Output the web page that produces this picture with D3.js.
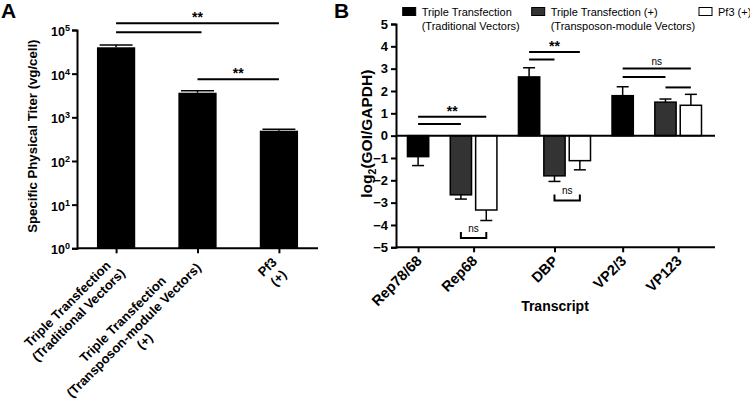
<!DOCTYPE html>
<html>
<head>
<meta charset="utf-8">
<script src="https://cdn.jsdelivr.net/npm/d3@7"></script>
<style>
  body { margin: 0; background: #fff; }
  svg { font-family: Arial, "Liberation Sans", sans-serif; }
  .bold { font-weight: bold; }
</style>
</head>
<body>
<div id="wrapper"></div>
<script>
// ---- Panel A data: specific physical titer ----
const titerLabels = [
  ["Triple Transfection", "(Traditional Vectors)"],
  ["Triple Transfection", "(Transposon-module Vectors)", "(+)"],
  ["Pf3", "(+)"],
];
const titerMeans = [40200, 3660, 494];
const titerErrors = [5200, 410, 37];
const titerTicks = [1, 10, 100, 1000, 10000, 100000];

// ---- Panel B data: log2(GOI/GAPDH) ----
const transcripts = ["Rep78/68", "Rep68", "DBP", "VP2/3", "VP123"];
const seriesNames = [
  ["Triple Transfection", "(Traditional Vectors)"],
  ["Triple Transfection (+)", "(Transposon-module Vectors)"],
  ["Pf3 (+)"],
];
const traditionalMeans = [-0.94, null, 2.63, 1.79, null];
const traditionalErrors = [0.40, null, 0.41, 0.40, null];
const transposonMeans = [null, -2.65, -1.80, null, 1.50];
const transposonErrors = [null, 0.19, 0.25, null, 0.14];
const pf3Means = [null, -3.33, -1.12, null, 1.36];
const pf3Errors = [null, 0.47, 0.41, null, 0.49];
const log2Ticks = [-5, -4, -3, -2, -1, 0, 1, 2, 3, 4, 5];

const seriesFill = ["#000", "#333", "#fff"];

const svg = d3.select("#wrapper").append("svg")
    .attr("width", 750)
    .attr("height", 399);

// ================= Panel A =================
const a = { left: 77, right: 318, top: 30, bottom: 248.3 };

const xA = d3.scalePoint()
    .domain(d3.range(titerMeans.length))
    .range([a.left, a.right])
    .padding(0.48);
const yA = d3.scaleLog()
    .domain([1, 1e5])
    .range([a.bottom, a.top]);
const barWA = xA.step() * 0.47;

const gA = svg.append("g");

gA.selectAll("rect.bar")
  .data(titerMeans)
  .join("rect")
    .attr("class", "bar")
    .attr("x", (d, i) => xA(i) - barWA / 2)
    .attr("y", d => yA(d))
    .attr("width", barWA)
    .attr("height", d => yA(1) - yA(d))
    .attr("fill", "#000");

// error bars (upper only)
titerMeans.forEach((m, i) => {
  const cx = xA(i);
  gA.append("line").attr("x1", cx).attr("x2", cx)
    .attr("y1", yA(m)).attr("y2", yA(m + titerErrors[i]))
    .attr("stroke", "#000").attr("stroke-width", 1.5);
  gA.append("line").attr("x1", cx - barWA * 0.43).attr("x2", cx + barWA * 0.43)
    .attr("y1", yA(m + titerErrors[i])).attr("y2", yA(m + titerErrors[i]))
    .attr("stroke", "#000").attr("stroke-width", 1.5);
});

// y axis
const yAxisA = gA.append("g")
    .attr("transform", `translate(${a.left},0)`)
    .call(d3.axisLeft(yA).tickValues(titerTicks).tickSize(5).tickFormat(""));
yAxisA.select(".domain").attr("stroke-width", 2);
yAxisA.selectAll(".tick line").attr("stroke-width", 2);
yAxisA.selectAll(".tick").append("text")
    .attr("class", "bold")
    .attr("x", -7)
    .attr("dy", "0.45em")
    .attr("text-anchor", "end")
    .attr("fill", "#000")
    .style("font-size", "12.5px")
    .each(function(d) {
      const t = d3.select(this);
      t.append("tspan").text("10");
      t.append("tspan").attr("dy", -5).style("font-size", "9px").text(Math.round(Math.log10(d)));
    });

// x axis
const xAxisA = gA.append("g")
    .attr("transform", `translate(0,${a.bottom})`)
    .call(d3.axisBottom(xA).tickSize(5).tickFormat(""));
xAxisA.select(".domain").attr("stroke-width", 2).attr("d", `M${a.left},0H${a.right}`);
xAxisA.selectAll(".tick line").attr("stroke-width", 2);

// rotated multi-line category labels, lines centred inside the block
function multiLineLabel(g, lines, cx, cy, fontSize, lineH) {
  const lab = g.append("g")
      .attr("transform", `translate(${cx},${cy}) rotate(-45)`);
  const texts = lines.map((l, i) => lab.append("text")
      .attr("class", "bold")
      .attr("text-anchor", "middle")
      .attr("dy", "0.35em")
      .attr("y", (i - (lines.length - 1) / 2) * lineH)
      .style("font-size", fontSize + "px")
      .text(l));
  const maxW = d3.max(texts, t => t.node().getComputedTextLength());
  texts.forEach(t => t.attr("x", -maxW / 2));
}
titerLabels.forEach((lines, i) => multiLineLabel(gA, lines, xA(i) + 1, a.bottom + 17, 13, 15.5));

// y label
gA.append("text")
    .attr("class", "bold")
    .attr("transform", `translate(37,${(a.top + a.bottom) / 2 - 3}) rotate(-90)`)
    .attr("text-anchor", "middle")
    .style("font-size", "13.2px")
    .text("Specific Physical Titer (vg/cell)");

// significance
const sigA = [
  { from: 0, to: 2, y: 23.3, label: "**" },
  { from: 0, to: 1, y: 32.3, extend: 4 },
  { from: 1, to: 2, y: 79.3, label: "**" },
];
sigA.forEach(s => {
  const x1 = xA(s.from), x2 = xA(s.to) + (s.extend || 0);
  gA.append("line").attr("x1", x1).attr("x2", x2).attr("y1", s.y).attr("y2", s.y)
    .attr("stroke", "#000").attr("stroke-width", 2);
  if (s.label) {
    gA.append("text").attr("class", "bold")
      .attr("x", (xA(s.from) + xA(s.to)) / 2).attr("y", s.y - 1)
      .attr("text-anchor", "middle").style("font-size", "14px")
      .text(s.label);
  }
});

svg.append("text").attr("class", "bold")
    .attr("x", 1).attr("y", 18)
    .style("font-size", "21px")
    .text("A");

// ================= Panel B =================
const b = { left: 396, right: 715, top: 24, bottom: 247.3 };

const yB = d3.scaleLinear().domain([-5, 5]).range([b.bottom, b.top]);

const seriesMeans = [traditionalMeans, transposonMeans, pf3Means];
const seriesErrors = [traditionalErrors, transposonErrors, pf3Errors];

// lay out the bars: one unit per bar, small gap inside a group, wider gap between groups
const barStep = 1.115, groupGap = 0.88;
const bars = [];
const groupCenters = [];
let cursor = 0;
transcripts.forEach((t, gi) => {
  const start = cursor;
  let n = 0;
  seriesMeans.forEach((vals, si) => {
    if (vals[gi] == null) return;
    bars.push({ group: gi, series: si, pos: cursor + n * barStep, value: vals[gi], err: seriesErrors[si][gi] });
    n++;
  });
  const end = cursor + (n - 1) * barStep + 1;
  groupCenters.push((start + end) / 2);
  cursor = end + groupGap;
});
const totalUnits = cursor - groupGap;

const xB = d3.scaleLinear()
    .domain([-0.47, totalUnits + 0.56])
    .range([b.left, b.right]);
const barWB = xB(1) - xB(0);
const barCenter = (gi, si) => {
  const bar = bars.find(d => d.group === gi && d.series === si);
  return xB(bar.pos + 0.5);
};

const gB = svg.append("g");

// error bars (one-sided, away from zero)
bars.forEach(d => {
  const cx = xB(d.pos + 0.5);
  const tip = d.value >= 0 ? d.value + d.err : d.value - d.err;
  gB.append("line").attr("x1", cx).attr("x2", cx)
    .attr("y1", yB(d.value)).attr("y2", yB(tip))
    .attr("stroke", "#000").attr("stroke-width", 1.5);
  gB.append("line").attr("x1", cx - 6).attr("x2", cx + 6)
    .attr("y1", yB(tip)).attr("y2", yB(tip))
    .attr("stroke", "#000").attr("stroke-width", 1.5);
});

gB.selectAll("rect.bar")
  .data(bars)
  .join("rect")
    .attr("class", "bar")
    .attr("x", d => xB(d.pos) + 0.75)
    .attr("y", d => yB(Math.max(0, d.value)))
    .attr("width", barWB - 1.5)
    .attr("height", d => Math.abs(yB(d.value) - yB(0)))
    .attr("fill", d => seriesFill[d.series])
    .attr("stroke", "#000")
    .attr("stroke-width", 1.5);

// zero line
gB.append("line")
    .attr("x1", b.left).attr("x2", b.right)
    .attr("y1", yB(0)).attr("y2", yB(0))
    .attr("stroke", "#000").attr("stroke-width", 2);

// y axis
const yAxisB = gB.append("g")
    .attr("transform", `translate(${b.left},0)`)
    .call(d3.axisLeft(yB).tickValues(log2Ticks).tickSize(5).tickPadding(3));
yAxisB.select(".domain").attr("stroke-width", 2);
yAxisB.selectAll(".tick line").attr("stroke-width", 2);
yAxisB.selectAll(".tick text")
    .attr("class", "bold")
    .attr("fill", "#000")
    .style("font-size", "13px");

// x axis
const xAxisB = gB.append("g")
    .attr("transform", `translate(0,${b.bottom})`)
    .call(d3.axisBottom(xB).tickValues(groupCenters).tickSize(5).tickFormat(""));
xAxisB.select(".domain").attr("stroke-width", 2).attr("d", `M${b.left},0H${b.right}`);
xAxisB.selectAll(".tick line").attr("stroke-width", 2);

transcripts.forEach((t, gi) => {
  gB.append("text")
    .attr("class", "bold")
    .attr("transform", `translate(${xB(groupCenters[gi]) + 1},${b.bottom + 11}) rotate(-45)`)
    .attr("text-anchor", "end")
    .attr("dy", "0.35em")
    .style("font-size", "14.5px")
    .text(t);
});

gB.append("text")
    .attr("class", "bold")
    .attr("x", (b.left + b.right) / 2 - 0.5)
    .attr("y", 311)
    .attr("text-anchor", "middle")
    .style("font-size", "14px")
    .text("Transcript");

// y label with subscript
const yLabB = gB.append("text")
    .attr("class", "bold")
    .attr("transform", `translate(372,${(b.top + b.bottom) / 2 - 2}) rotate(-90)`)
    .attr("text-anchor", "middle")
    .style("font-size", "15.5px");
yLabB.append("tspan").text("log");
yLabB.append("tspan").attr("dy", 4).style("font-size", "10.5px").text("2");
yLabB.append("tspan").attr("dy", -4).text("(GOI/GAPDH)");

// significance lines: [group, series] endpoints, y in axis units
const sigB = [
  { from: [0, 0], to: [1, 2], y: 0.85, label: "**", bold: true },
  { from: [0, 0], to: [1, 1], y: 0.52 },
  { from: [2, 0], to: [2, 2], y: 3.75, label: "**", bold: true },
  { from: [2, 0], to: [2, 1], y: 3.41 },
  { from: [3, 0], to: [4, 2], y: 3.01, label: "ns" },
  { from: [3, 0], to: [4, 1], y: 2.63 },
  { from: [4, 1], to: [4, 2], y: 2.16 },
];
sigB.forEach(s => {
  const x1 = barCenter(...s.from), x2 = barCenter(...s.to);
  gB.append("line").attr("x1", x1).attr("x2", x2)
    .attr("y1", yB(s.y)).attr("y2", yB(s.y))
    .attr("stroke", "#000").attr("stroke-width", 2);
  if (s.label) {
    gB.append("text")
      .attr("class", s.bold ? "bold" : null)
      .attr("x", (x1 + x2) / 2)
      .attr("y", yB(s.y) - (s.bold ? 1 : 3))
      .attr("text-anchor", "middle")
      .style("font-size", s.bold ? "14px" : "10px")
      .text(s.label);
  }
});

// "ns" brackets under the negative bars
const bracketsB = [
  { group: 1, y: -4.58 },
  { group: 2, y: -2.90 },
];
bracketsB.forEach(s => {
  const x1 = barCenter(s.group, 1), x2 = barCenter(s.group, 2);
  const yb = yB(s.y);
  gB.append("path")
    .attr("d", `M${x1},${yb - 6}V${yb}H${x2}V${yb - 6}`)
    .attr("fill", "none").attr("stroke", "#000").attr("stroke-width", 2);
  gB.append("text")
    .attr("x", (x1 + x2) / 2).attr("y", yb - 6)
    .attr("text-anchor", "middle")
    .style("font-size", "10px")
    .text("ns");
});

// legend
const legendX = [402.7, 531.7, 699];
seriesNames.forEach((lines, si) => {
  const lg = svg.append("g").attr("transform", `translate(${legendX[si]},0)`);
  lg.append("rect")
    .attr("x", 0).attr("y", 7.5)
    .attr("width", 13).attr("height", 8)
    .attr("fill", seriesFill[si])
    .attr("stroke", "#000").attr("stroke-width", 1);
  lines.forEach((l, li) => {
    lg.append("text")
      .attr("x", 19).attr("y", 16 + li * 14)
      .style("font-size", "11px")
      .text(l);
  });
});

svg.append("text").attr("class", "bold")
    .attr("x", 334).attr("y", 18)
    .style("font-size", "21px")
    .text("B");
</script>
</body>
</html>
